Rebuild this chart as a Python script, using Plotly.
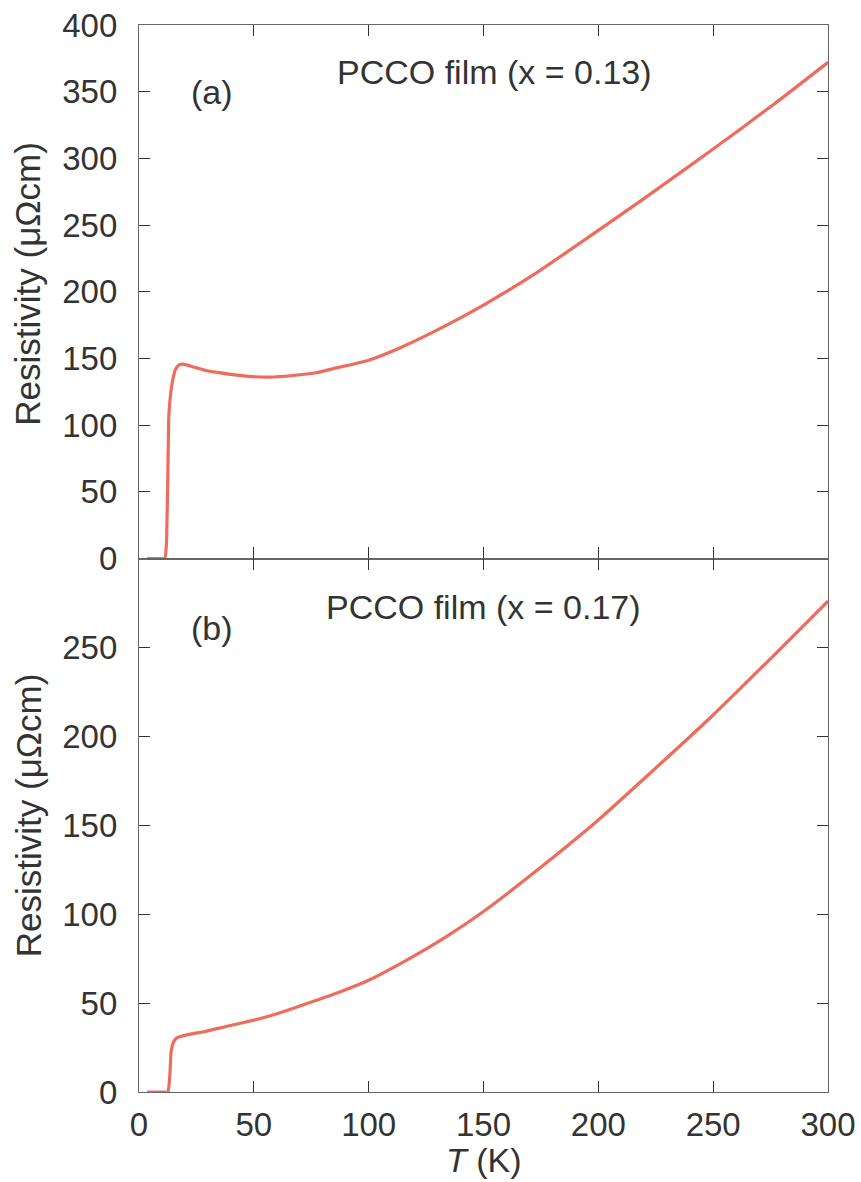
import plotly.graph_objects as go
from plotly.subplots import make_subplots

# Panel (a): PCCO film x = 0.13
T_a = [3.5, 6, 9, 11.2, 11.9, 12.5, 13.0, 13.8, 14.6, 15.7, 17.3, 19.2, 23, 29, 34, 40,
       48, 57, 67, 77, 86, 100, 115, 134, 150, 172, 200, 220, 250, 276, 300]
rho_a = [0, 0, 0, 0, 10, 56, 107, 124, 133, 141, 145, 145.7, 144, 141, 139.5, 138,
         136.5, 136, 137.2, 139.3, 142.9, 148.7, 159, 175, 190, 213, 246, 270, 307, 340, 372]

# Panel (b): PCCO film x = 0.17
T_b = [3.5, 7, 10, 12.5, 13.4, 14.0, 15.0, 16.3, 19.2, 24, 28.8, 38.4, 50, 57.5, 67, 76.7,
       88, 100, 115, 134, 150, 172.6, 200, 220.6, 250, 276, 300]
rho_b = [0, 0, 0, 0, 9, 22.6, 28, 30.3, 31.6, 33, 34, 37, 40.4, 43, 47, 51.3,
         56.5, 62.8, 73.0, 87.5, 101.5, 124, 153, 177, 212, 245, 276]

x_ticks = [0, 50, 100, 150, 200, 250, 300]
y_ticks_a = [0, 50, 100, 150, 200, 250, 300, 350, 400]
y_ticks_b = [0, 50, 100, 150, 200, 250]

LINE = "#ef6b5b"
TXT = "#333333"
FONT = "Liberation Sans, Arial, sans-serif"

fig = make_subplots(rows=2, cols=1, shared_xaxes=False, vertical_spacing=0)

fig.add_trace(go.Scatter(x=T_a, y=rho_a, mode="lines",
                         line=dict(color=LINE, width=3.2, shape="spline", smoothing=0.5),
                         showlegend=False), row=1, col=1)
fig.add_trace(go.Scatter(x=T_b, y=rho_b, mode="lines",
                         line=dict(color=LINE, width=3.2, shape="spline", smoothing=0.5),
                         showlegend=False), row=2, col=1)

axis_common = dict(showline=True, linecolor="#666666", linewidth=1.2, mirror="ticks",
                   ticks="inside", ticklen=11, tickwidth=1.3, tickcolor="#333333",
                   showgrid=False, zeroline=False, automargin=False,
                   tickfont=dict(family=FONT, size=33, color=TXT))

fig.update_xaxes(range=[0, 300], tickvals=x_ticks, **axis_common)
fig.update_xaxes(showticklabels=False, row=1, col=1)
fig.update_xaxes(showticklabels=True, ticklabelstandoff=3, row=2, col=1)

fig.update_yaxes(ticklabelstandoff=14, **axis_common)
fig.update_yaxes(range=[0, 400], tickvals=y_ticks_a, row=1, col=1)
fig.update_yaxes(range=[0, 300], tickvals=y_ticks_b, row=2, col=1)

ann_font = dict(family=FONT, size=34, color=TXT)
title_font = dict(family=FONT, size=35, color=TXT)
annotations = [
    dict(text="(a)", x=32, y=350, xref="x", yref="y", showarrow=False, font=ann_font),
    dict(text="PCCO film (x = 0.13)", x=155, y=365, xref="x", yref="y", showarrow=False, font=ann_font),
    dict(text="(b)", x=32, y=261, xref="x2", yref="y2", showarrow=False, font=ann_font),
    dict(text="PCCO film (x = 0.17)", x=150, y=273, xref="x2", yref="y2", showarrow=False, font=ann_font),
    dict(text="Resistivity (\u03bc\u03a9cm)", x=0, y=0.5, xref="paper", yref="y domain",
         xshift=-111, yshift=8, textangle=-90, showarrow=False, font=title_font,
         xanchor="center", yanchor="middle"),
    dict(text="Resistivity (\u03bc\u03a9cm)", x=0, y=0.5, xref="paper", yref="y2 domain",
         xshift=-111, yshift=10, textangle=-90, showarrow=False, font=title_font,
         xanchor="center", yanchor="middle"),
    dict(text="<i>T</i> (K)", x=0.5, y=0, xref="paper", yref="paper", yshift=-68,
         showarrow=False, font=ann_font, xanchor="center", yanchor="middle"),
]

fig.update_layout(width=861, height=1182, margin=dict(l=139, r=33, t=25, b=90),
                  paper_bgcolor="white", plot_bgcolor="white",
                  annotations=annotations, font=dict(family=FONT, color=TXT))

fig.write_html("out.html")
